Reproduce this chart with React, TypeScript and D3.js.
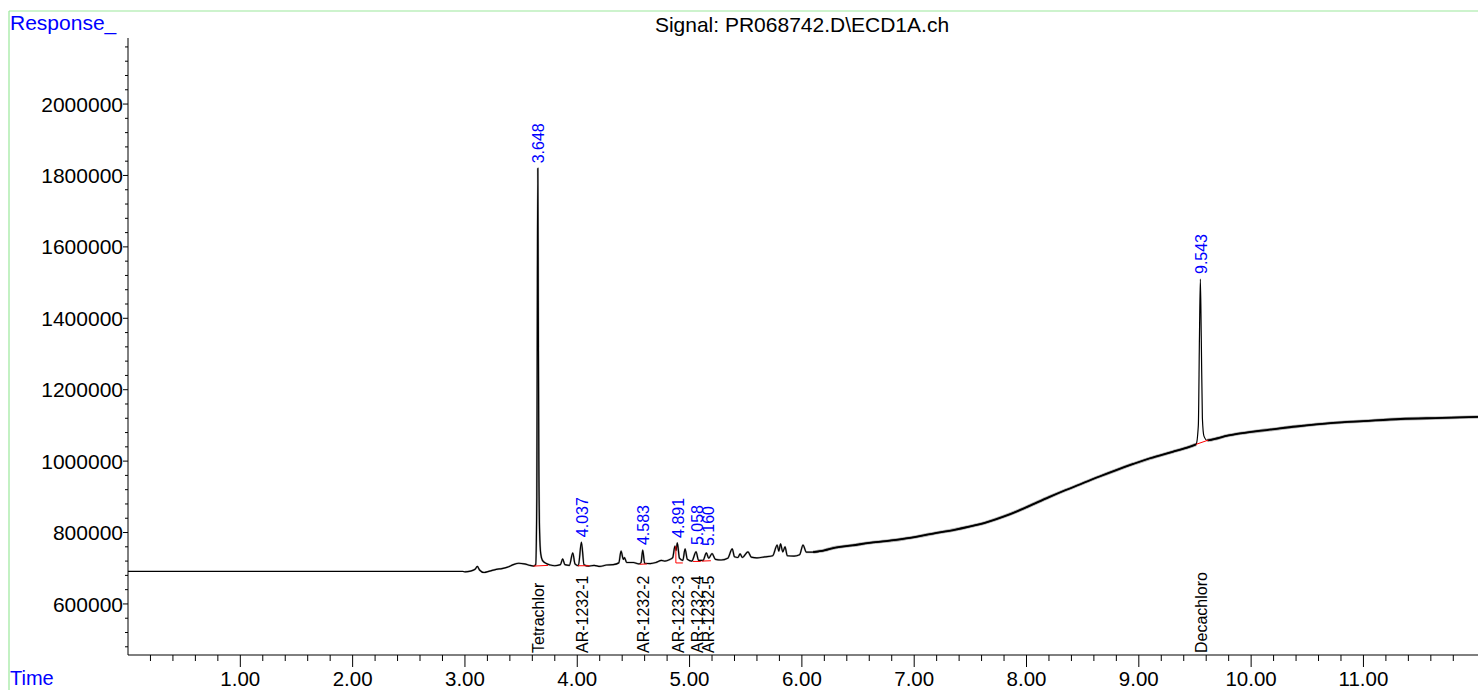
import React from "react";
import * as d3 from "d3";

// ---------- data ----------
const traceTime = [
  0.0, 2.98, 3.0, 3.05, 3.09, 3.11, 3.13, 3.17, 3.22, 3.28, 3.33, 3.38, 3.43, 3.48, 3.53, 3.58, 3.61, 3.63,
  3.64, 3.645, 3.649, 3.653, 3.658, 3.665, 3.675, 3.69, 3.72, 3.76, 3.8, 3.85, 3.87, 3.89, 3.93, 3.96, 3.98,
  4.01, 4.037, 4.06, 4.1, 4.15, 4.2, 4.26, 4.32, 4.37, 4.39, 4.41, 4.42, 4.44, 4.5, 4.55, 4.568, 4.583, 4.6,
  4.65, 4.7, 4.75, 4.78, 4.82, 4.85, 4.87, 4.88, 4.891, 4.91, 4.94, 4.96, 4.98, 5.02, 5.058, 5.08, 5.12,
  5.15, 5.17, 5.2, 5.23, 5.28, 5.34, 5.38, 5.4, 5.43, 5.45, 5.47, 5.52, 5.55, 5.6, 5.67, 5.74, 5.78, 5.795,
  5.81, 5.83, 5.85, 5.87, 5.93, 5.98, 6.01, 6.04, 6.1, 6.2, 6.3, 6.45, 6.6, 6.75, 6.9, 7.05, 7.2, 7.35, 7.5,
  7.65, 7.8, 7.95, 8.05, 8.2, 8.35, 8.5, 8.65, 8.8, 8.95, 9.1, 9.3, 9.45, 9.51, 9.53, 9.54, 9.548,
  9.556, 9.566, 9.58, 9.61, 9.63, 9.8, 10.0, 10.14, 10.4, 10.73, 11.0, 11.33, 11.7, 12.02,
];
const traceResponse = [
  691000, 691000, 690000, 692000, 697000, 705000, 695000, 688000, 692000, 697000, 699000, 703000, 710000,
  714000, 712000, 708000, 706000, 710000, 900000, 1500000, 1820000, 1450000, 1000000, 800000, 740000,
  722000, 714000, 709000, 707000, 710000, 726000, 710000, 708000, 743000, 712000, 707000, 773000, 710000,
  706000, 708000, 705000, 709000, 710000, 715000, 748000, 725000, 730000, 716000, 716000, 712000, 716000,
  751000, 714000, 713000, 716000, 722000, 720000, 724000, 730000, 762000, 750000, 771000, 728000, 722000,
  754000, 725000, 720000, 746000, 722000, 722000, 743000, 728000, 741000, 725000, 723000, 728000, 754000,
  732000, 730000, 740000, 730000, 746000, 731000, 729000, 732000, 735000, 765000, 748000, 768000, 746000,
  760000, 735000, 734000, 738000, 765000, 745000, 745000, 750000, 758000, 764000, 771000, 776000, 782000,
  790000, 799000, 807000, 817000, 829000, 845000, 864000, 878000, 899000, 919000, 938000, 957000, 975000,
  992000, 1008000, 1026000, 1040000, 1047000, 1100000, 1350000, 1510000, 1350000, 1120000,
  1070000, 1058000, 1059000, 1072000, 1082000, 1087000, 1097000, 1107000, 1112000, 1118000, 1121000,
  1124000,
];

const peakRT = [3.648, 4.037, 4.583, 4.891, 5.058, 5.16, 9.543];
const peakLabelTime = [3.649, 4.04, 4.584, 4.896, 5.065, 5.163, 9.55];
const peakLabelResponse = [1820000, 773000, 751000, 771000, 751000, 748000, 1510000];
const compoundNames = ["Tetrachlor", "AR-1232-1", "AR-1232-2", "AR-1232-3", "AR-1232-4", "AR-1232-5", "Decachloro"];

// integration baselines (red)
const redStartT = [3.61, 4.005, 4.556, 4.878, 4.878, 5.03, 5.11, 9.51];
const redStartV = [706000, 707000, 711000, 762000, 714800, 719000, 720000, 1047000];
const redEndT = [3.74, 4.11, 4.62, 4.878, 4.94, 5.1, 5.19, 9.62];
const redEndV = [708000, 707000, 712000, 714800, 714800, 719000, 721000, 1059000];

const yMajorTicks = [600000, 800000, 1000000, 1200000, 1400000, 1600000, 1800000, 2000000];
const xMajorTicks = [1, 2, 3, 4, 5, 6, 7, 8, 9, 10, 11];

// ---------- layout ----------
const W = 1478;
const H = 690;
const axisLeft = 128;
const axisBottom = 655;
const axisTop = 38;
const font = "'Liberation Sans', Arial, sans-serif";

export default function App() {
  const x = d3.scaleLinear().domain([0, 12.02]).range([axisLeft, 1478]);
  const y = d3.scaleLinear().domain([457000, 2185000]).range([axisBottom, axisTop]);

  const pts: [number, number][] = traceTime.map((t, i) => [t, traceResponse[i]]);
  const line = d3
    .line<[number, number]>()
    .x((d) => x(d[0]))
    .y((d) => y(d[1]))
    .curve(d3.curveMonotoneX);
  const noisyA = pts.filter((d) => d[0] >= 6.1 && d[0] <= 9.51);
  const noisyB = pts.filter((d) => d[0] >= 9.61);
  const mildA = pts.filter((d) => d[0] >= 3.0 && d[0] <= 6.1);

  const xMinor = d3.range(1, 60).map((i) => i * 0.2).filter((t) => Math.abs(t - Math.round(t)) > 1e-6);
  const yMinor = d3.range(12, 55).map((i) => i * 40000).filter((v) => v % 200000 !== 0);

  return (
    <svg
      width={W}
      height={H}
      style={{ position: "absolute", left: 0, top: 0, background: "#fff" }}
      fontFamily={font}
    >
      {/* frame */}
      <line x1={9} y1={11} x2={W} y2={11} stroke="#9be89b" strokeWidth={1.2} />
      <line x1={9} y1={11} x2={9} y2={H} stroke="#9be89b" strokeWidth={1.2} />

      {/* title and axis titles */}
      <text x={802} y={32} fontSize={21} textAnchor="middle" fill="#000">
        Signal: PR068742.D\ECD1A.ch
      </text>
      <text x={10} y={30} fontSize={21} fill="#0000ff">
        Response_
      </text>
      <text x={10} y={685} fontSize={20} fill="#0000ff">
        Time
      </text>

      {/* axes */}
      <line x1={axisLeft} y1={axisTop} x2={axisLeft} y2={axisBottom} stroke="#000" />
      <line x1={axisLeft} y1={axisBottom} x2={W} y2={axisBottom} stroke="#000" />

      {yMinor.map((v) => (
        <line key={"ym" + v} x1={axisLeft - 3} x2={axisLeft} y1={y(v)} y2={y(v)} stroke="#000" />
      ))}
      {yMajorTicks.map((v) => (
        <g key={"yM" + v}>
          <line x1={axisLeft - 5} x2={axisLeft} y1={y(v)} y2={y(v)} stroke="#000" />
          <text x={axisLeft - 5} y={y(v)} dy="0.36em" fontSize={21} textAnchor="end" fill="#000">
            {v}
          </text>
        </g>
      ))}
      {xMinor.map((t) => (
        <line key={"xm" + t} x1={x(t)} x2={x(t)} y1={axisBottom} y2={axisBottom + 6} stroke="#000" />
      ))}
      {xMajorTicks.map((t) => (
        <g key={"xM" + t}>
          <line x1={x(t)} x2={x(t)} y1={axisBottom} y2={axisBottom + 12} stroke="#000" />
          <text x={x(t)} y={686} fontSize={20.5} textAnchor="middle" fill="#000">
            {t.toFixed(2)}
          </text>
        </g>
      ))}

      {/* trace */}
      <path d={line(mildA) || ""} fill="none" stroke="#777" strokeOpacity={0.6} strokeWidth={2} />
      <path d={line(noisyA) || ""} fill="none" stroke="#777" strokeOpacity={0.6} strokeWidth={3.4} />
      <path d={line(noisyB) || ""} fill="none" stroke="#777" strokeOpacity={0.6} strokeWidth={3.4} />
      <path d={line(pts) || ""} fill="none" stroke="#000" strokeWidth={1.2} strokeLinejoin="round" />
      <path d={line(noisyA) || ""} fill="none" stroke="#000" strokeWidth={1.8} strokeLinejoin="round" />
      <path d={line(noisyB) || ""} fill="none" stroke="#000" strokeWidth={1.8} strokeLinejoin="round" />

      {/* integration baselines */}
      {redStartT.map((t, i) => (
        <line
          key={"r" + i}
          x1={x(t)}
          y1={y(redStartV[i])}
          x2={x(redEndT[i])}
          y2={y(redEndV[i])}
          stroke="#ff0000"
          strokeWidth={1}
        />
      ))}

      {/* retention time labels */}
      {peakRT.map((rt, i) => (
        <text
          key={"rt" + i}
          transform={`translate(${x(peakLabelTime[i]) + 6},${y(peakLabelResponse[i]) - 5}) rotate(-90)`}
          fontSize={16}
          fill="#0000ff"
        >
          {rt.toFixed(3)}
        </text>
      ))}

      {/* compound names */}
      {compoundNames.map((n, i) => (
        <text
          key={"cn" + i}
          transform={`translate(${x(peakLabelTime[i]) + 6},${axisBottom - 2}) rotate(-90)`}
          fontSize={16}
          fill="#000"
        >
          {n}
        </text>
      ))}
    </svg>
  );
}
